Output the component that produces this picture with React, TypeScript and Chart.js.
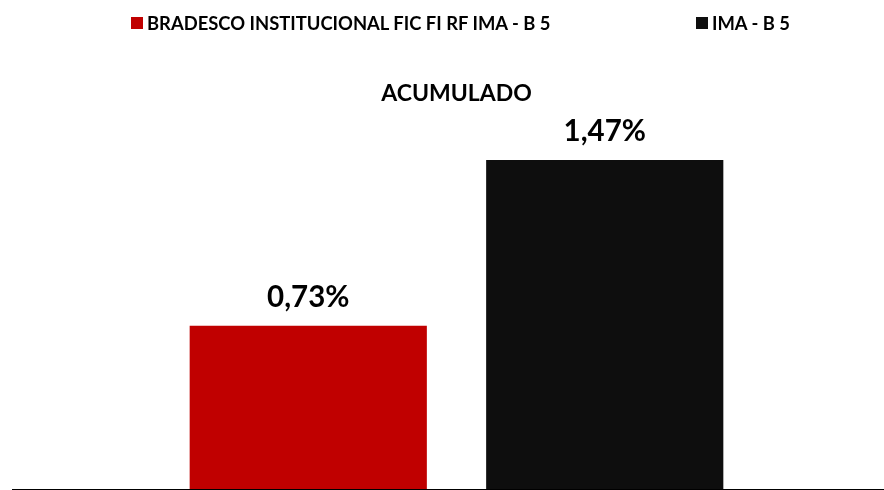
import React, { useEffect, useRef } from "react";
import { Chart, registerables } from "chart.js";

Chart.register(...registerables);

const categories = [""];
const chartTitle = "ACUMULADO";
const seriesNames = ["BRADESCO INSTITUCIONAL FIC FI RF IMA - B 5", "IMA - B 5"];
const seriesValues = [0.73, 1.47];
const seriesColors = ["#C00000", "#0E0E0E"];
const yMin = 0;
const yMax = 1.6;

const FONT = "Lato, 'Open Sans', sans-serif";

const fmt = (v: number) => v.toFixed(2).replace(".", ",") + "%";

const valueLabels = {
  id: "valueLabels",
  afterDatasetsDraw(chart: any) {
    const ctx = chart.ctx;
    ctx.save();
    ctx.font = `bold 29.5px ${FONT}`;
    ctx.fillStyle = "#000";
    ctx.textAlign = "center";
    ctx.textBaseline = "alphabetic";
    chart.data.datasets.forEach((ds: any, i: number) => {
      const meta = chart.getDatasetMeta(i);
      meta.data.forEach((bar: any, j: number) => {
        ctx.fillText(fmt(ds.data[j]), bar.x, bar.y - 19);
      });
    });
    ctx.restore();
  },
};

export default function App() {
  const ref = useRef<HTMLCanvasElement>(null);

  useEffect(() => {
    if (!ref.current) return;
    const chart = new Chart(ref.current, {
      type: "bar",
      data: {
        labels: categories,
        datasets: seriesNames.map((name, i) => ({
          label: name,
          data: [seriesValues[i]],
          backgroundColor: seriesColors[i],
          borderWidth: 0,
          categoryPercentage: 0.667,
          barPercentage: 0.8,
        })),
      },
      options: {
        animation: false,
        responsive: false,
        devicePixelRatio: 1,
        layout: { padding: { left: 12, right: 0, top: 0, bottom: 1 } },
        plugins: {
          legend: { display: false },
          tooltip: { enabled: false },
          title: {
            display: true,
            text: chartTitle,
            color: "#000",
            font: { family: FONT, size: 23, weight: "bold" },
            padding: { top: 80, bottom: 23.4 },
          },
        },
        scales: {
          x: {
            display: true,
            grid: { display: false, drawTicks: false },
            ticks: { display: false },
            border: { display: true, color: "#000", width: 1 },
          },
          y: {
            display: false,
            min: yMin,
            max: yMax,
          },
        },
      },
      plugins: [valueLabels],
    });
    return () => chart.destroy();
  }, []);

  return (
    <div
      style={{
        position: "absolute",
        left: 0,
        top: 0,
        width: 884,
        height: 490,
        overflow: "hidden",
        background: "#fff",
      }}
    >
      <canvas
        ref={ref}
        width={901}
        height={490}
        style={{ position: "absolute", left: 0, top: 0, width: 901, height: 490 }}
      />
      {seriesNames.map((name, i) => (
        <div
          key={name}
          style={{
            position: "absolute",
            left: i === 0 ? 131 : 696,
            top: 17,
            height: 12,
            display: "flex",
            alignItems: "center",
            whiteSpace: "nowrap",
            fontFamily: FONT,
            fontWeight: "bold",
            fontSize: 18.4,
            color: "#000",
          }}
        >
          <span
            style={{
              display: "inline-block",
              width: 12,
              height: 12,
              background: seriesColors[i],
              marginRight: 4,
              flex: "none",
            }}
          />
          <span>{name}</span>
        </div>
      ))}
    </div>
  );
}
